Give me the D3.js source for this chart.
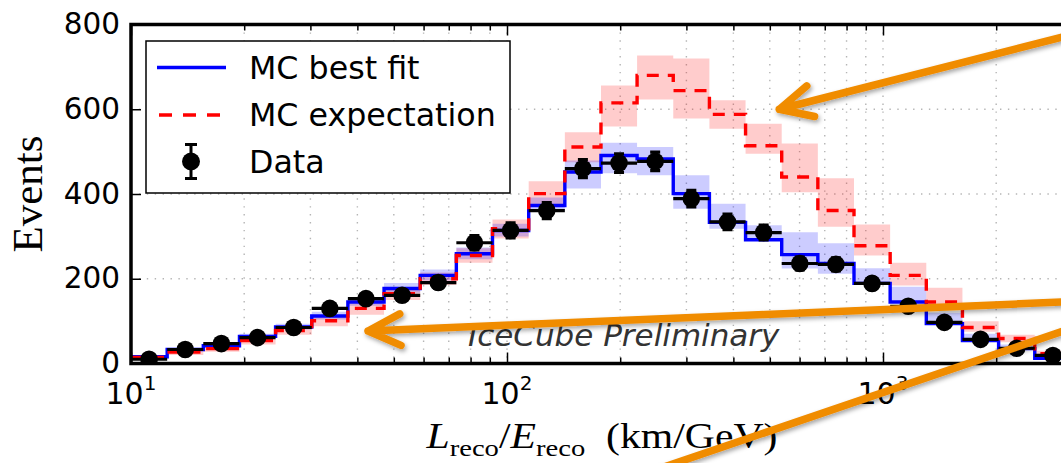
<!DOCTYPE html>
<html><head><meta charset="utf-8">
<script src="https://cdn.jsdelivr.net/npm/d3@7"></script>
<style>
html,body{margin:0;padding:0;background:#fff;}
svg{display:block;}
</style></head>
<body><svg id="chart" width="1061" height="463"></svg>
<script>
// Histogram bin edges in L_reco/E_reco (km/GeV): 26 log-uniform bins, 10 .. 10^3.5
const binEdges = [10, 12.48, 15.57, 19.43, 24.24, 30.25, 37.74, 47.10, 58.77, 73.33, 91.50,
  114.2, 142.5, 177.8, 221.8, 276.8, 345.4, 431.0, 537.8, 671.0, 837.3,
  1044.8, 1303.7, 1626.7, 2029.8, 2532.8, 3162.3];

// Observed events per bin
const dataCounts = [10, 33, 47, 61, 85, 130, 153, 161, 191, 285, 314, 361, 460,
  473, 477, 389, 334, 309, 236, 234, 189, 135, 97, 57, 36, 19];

// MC best fit with its uncertainty band
const bestFit = [16, 33, 42, 64, 86, 112, 145, 177, 208, 259, 314, 373, 452,
  491, 483, 401, 333, 292, 257, 236, 189, 145, 94, 54, 35, 12];
const bestFitLow = [13, 29, 38, 58, 80, 104, 136, 167, 196, 246, 300, 358, 413,
  449, 444, 365, 318, 290, 224, 212, 185, 146, 94, 54, 35, 12];
const bestFitHigh = [19, 37, 47, 70, 94, 122, 156, 190, 222, 274, 330, 392, 479,
  521, 511, 444, 377, 326, 310, 284, 225, 181, 120, 70, 45, 20];

// MC expectation (no oscillation fit) with its uncertainty band
const expectation = [14, 27, 35, 54, 78, 101, 130, 165, 200, 255, 318, 401, 511,
  615, 680, 644, 588, 514, 440, 361, 278, 208, 145, 85, 59, 23];
const expectationLow = [8, 20, 28, 45, 68, 88, 115, 150, 185, 238, 295, 372, 475,
  559, 623, 578, 554, 495, 404, 323, 255, 184, 135, 75, 50, 15];
const expectationHigh = [16, 30, 38, 58, 84, 110, 142, 178, 215, 272, 340, 430, 546,
  656, 727, 720, 621, 566, 519, 437, 328, 238, 179, 100, 68, 30];

// Axis ticks
const yTicks = [0, 200, 400, 600, 800];
const xMajorTicks = [10, 100, 1000];
const xMinorTicks = [20, 30, 40, 50, 60, 70, 80, 90, 200, 300, 400, 500, 600, 700, 800, 900, 2000, 3000];
const xTickExponents = ["1", "2", "3"];

// Legend entries
const legendLabels = ["MC best fit", "MC expectation", "Data"];

const svg = d3.select("#chart");
const W = 1061, H = 463;
const plot = {left: 131, right: 1071, top: 24.5, bottom: 363.5};

const x = d3.scaleLog().domain([10, Math.pow(10, 3.5)]).range([plot.left, plot.right]);
const y = d3.scaleLinear().domain([0, 800]).range([plot.bottom, plot.top]);

svg.append("rect").attr("width", W).attr("height", H).attr("fill", "#fff");

const defs = svg.append("defs");
defs.append("clipPath").attr("id", "plotClip")
  .append("rect").attr("x", plot.left).attr("y", plot.top)
  .attr("width", plot.right - plot.left).attr("height", plot.bottom - plot.top);
const shadow = defs.append("filter").attr("id", "arrowShadow")
  .attr("x", "-20%").attr("y", "-20%").attr("width", "140%").attr("height", "160%");
shadow.append("feDropShadow").attr("dx", 1.5).attr("dy", 2.5)
  .attr("stdDeviation", 2).attr("flood-color", "#000").attr("flood-opacity", 0.35);

// grid
const grid = svg.append("g").attr("stroke", "#b5b5b5").attr("stroke-width", 1.4)
  .attr("stroke-dasharray", "1.4,6.5");
grid.selectAll("line.v").data(xMajorTicks.concat(xMinorTicks)).join("line")
  .attr("x1", d => x(d)).attr("x2", d => x(d))
  .attr("y1", plot.top).attr("y2", plot.bottom);
grid.selectAll("line.h").data(yTicks.slice(1, -1)).join("line")
  .attr("x1", plot.left).attr("x2", plot.right)
  .attr("y1", d => y(d)).attr("y2", d => y(d));

const g = svg.append("g").attr("clip-path", "url(#plotClip)");

// step data: one point per bin start, repeated at the last edge
function steps(vals) {
  const pts = vals.map((v, i) => ({x: binEdges[i], v}));
  pts.push({x: binEdges[binEdges.length - 1], v: vals[vals.length - 1]});
  return pts;
}
function bandSteps(lo, hi) {
  const pts = lo.map((v, i) => ({x: binEdges[i], lo: v, hi: hi[i]}));
  pts.push({x: binEdges[binEdges.length - 1], lo: lo[lo.length - 1], hi: hi[hi.length - 1]});
  return pts;
}
const band = d3.area().curve(d3.curveStepAfter)
  .x(d => x(d.x)).y0(d => y(d.lo)).y1(d => y(d.hi));
const stepLine = d3.line().curve(d3.curveStepAfter)
  .x(d => x(d.x)).y(d => y(d.v));

g.append("path").attr("d", band(bandSteps(expectationLow, expectationHigh)))
  .attr("fill", "red").attr("fill-opacity", 0.2);
g.append("path").attr("d", band(bandSteps(bestFitLow, bestFitHigh)))
  .attr("fill", "blue").attr("fill-opacity", 0.2);

g.append("path").attr("d", stepLine(steps(bestFit)))
  .attr("fill", "none").attr("stroke", "blue").attr("stroke-width", 3.4);
g.append("path").attr("d", stepLine(steps(expectation)))
  .attr("fill", "none").attr("stroke", "red").attr("stroke-width", 3.4)
  .attr("stroke-dasharray", "12,9");

// data points with statistical error bars
const pts = dataCounts.map((v, i) => ({lo: binEdges[i], hi: binEdges[i + 1], v,
  c: Math.sqrt(binEdges[i] * binEdges[i + 1]), e: Math.sqrt(v)}));
const dg = g.append("g").attr("stroke", "#000").attr("stroke-width", 3.2);
dg.selectAll("line.xerr").data(pts).join("line")
  .attr("x1", d => x(d.lo)).attr("x2", d => x(d.hi))
  .attr("y1", d => y(d.v)).attr("y2", d => y(d.v));
dg.selectAll("line.yerr").data(pts).join("line")
  .attr("x1", d => x(d.c)).attr("x2", d => x(d.c))
  .attr("y1", d => y(d.v - d.e)).attr("y2", d => y(d.v + d.e));
dg.selectAll("line.capt").data(pts).join("line")
  .attr("x1", d => x(d.c) - 5).attr("x2", d => x(d.c) + 5)
  .attr("y1", d => y(d.v + d.e)).attr("y2", d => y(d.v + d.e));
dg.selectAll("line.capb").data(pts).join("line")
  .attr("x1", d => x(d.c) - 5).attr("x2", d => x(d.c) + 5)
  .attr("y1", d => y(d.v - d.e)).attr("y2", d => y(d.v - d.e));
g.append("g").selectAll("circle").data(pts).join("circle")
  .attr("cx", d => x(d.c)).attr("cy", d => y(d.v)).attr("r", 8.8).attr("fill", "#000");

// watermark
svg.append("text").attr("x", 468).attr("y", 346)
  .attr("font-family", "DejaVu Sans").attr("font-style", "italic")
  .attr("font-size", 31).attr("fill", "#333")
  .text("IceCube Preliminary");

// axes: ticks point inward
const tickStyle = sel => {
  sel.select(".domain").remove();
  sel.selectAll(".tick line").attr("stroke", "#000").attr("stroke-width", 1.5);
  sel.selectAll(".tick text").remove();
};
svg.append("g").attr("transform", `translate(0,${plot.bottom})`)
  .call(d3.axisBottom(x).tickValues(xMajorTicks).tickSize(-11)).call(tickStyle);
svg.append("g").attr("transform", `translate(0,${plot.bottom})`)
  .call(d3.axisBottom(x).tickValues(xMinorTicks).tickSize(-6)).call(tickStyle);
svg.append("g").attr("transform", `translate(0,${plot.top})`)
  .call(d3.axisTop(x).tickValues(xMajorTicks).tickSize(-11)).call(tickStyle);
svg.append("g").attr("transform", `translate(0,${plot.top})`)
  .call(d3.axisTop(x).tickValues(xMinorTicks).tickSize(-6)).call(tickStyle);
svg.append("g").attr("transform", `translate(${plot.left},0)`)
  .call(d3.axisLeft(y).tickValues(yTicks).tickSize(-10)).call(tickStyle);

// spines
svg.append("rect").attr("x", plot.left).attr("y", plot.top)
  .attr("width", plot.right - plot.left).attr("height", plot.bottom - plot.top)
  .attr("fill", "none").attr("stroke", "#000").attr("stroke-width", 3.5);

// tick labels
svg.append("g").selectAll("text").data(yTicks).join("text")
  .attr("x", plot.left - 11).attr("y", d => y(d) + 9.5)
  .attr("text-anchor", "end").attr("font-family", "DejaVu Sans").attr("font-size", 29.5)
  .attr("fill", "#000").text(d => d);
const xl = svg.append("g").selectAll("text").data(xMajorTicks).join("text")
  .attr("x", d => x(d)).attr("y", 404)
  .attr("text-anchor", "middle").attr("font-family", "DejaVu Sans").attr("font-size", 30)
  .attr("fill", "#000");
xl.append("tspan").text("10");
xl.append("tspan").attr("dy", -14).attr("font-size", 20).text((d, i) => xTickExponents[i]);

// axis titles
svg.append("text").attr("transform", "translate(42,194) rotate(-90)")
  .attr("text-anchor", "middle").attr("font-family", "Liberation Serif").attr("font-size", 43)
  .attr("fill", "#000").text("Events");
const xt = svg.append("text").attr("x", 602).attr("y", 448).attr("text-anchor", "middle")
  .attr("font-family", "Liberation Serif").attr("font-size", 35).attr("fill", "#000")
  .attr("textLength", 351).attr("lengthAdjust", "spacingAndGlyphs");
xt.append("tspan").attr("font-style", "italic").text("L");
xt.append("tspan").attr("dy", 8).attr("font-size", 24).text("reco");
xt.append("tspan").attr("dy", -8).text("/");
xt.append("tspan").attr("font-style", "italic").text("E");
xt.append("tspan").attr("dy", 8).attr("font-size", 24).text("reco");
xt.append("tspan").attr("dy", -8).text("\u2002(km/GeV)");

// legend
const lg = svg.append("g");
lg.append("rect").attr("x", 146).attr("y", 41).attr("width", 364).attr("height", 152)
  .attr("fill", "#fff").attr("stroke", "#000").attr("stroke-width", 1.5);
const rowY = [67.5, 115, 161.5];
lg.append("line").attr("x1", 157).attr("x2", 226).attr("y1", rowY[0]).attr("y2", rowY[0])
  .attr("stroke", "blue").attr("stroke-width", 3.4);
lg.append("line").attr("x1", 159).attr("x2", 226).attr("y1", rowY[1]).attr("y2", rowY[1])
  .attr("stroke", "red").attr("stroke-width", 3.4).attr("stroke-dasharray", "13,11");
lg.append("line").attr("x1", 191).attr("x2", 191).attr("y1", rowY[2] - 17).attr("y2", rowY[2] + 17)
  .attr("stroke", "#000").attr("stroke-width", 3);
[-17, 17].forEach(o => lg.append("line").attr("x1", 185).attr("x2", 197)
  .attr("y1", rowY[2] + o).attr("y2", rowY[2] + o).attr("stroke", "#000").attr("stroke-width", 3));
lg.append("circle").attr("cx", 191).attr("cy", rowY[2]).attr("r", 9).attr("fill", "#000");
lg.selectAll("text").data(legendLabels).join("text")
  .attr("x", 249).attr("y", (d, i) => rowY[i] + 11)
  .attr("font-family", "DejaVu Sans").attr("font-size", 31.7).attr("fill", "#000").text(d => d);

// orange call-out arrows (tip and tail in data coordinates)
const arrows = [
  {tip: [530, 600], tail: [3243, 778], head: true},
  {tip: [42.7, 76.7], tail: [3243, 146.3], head: true},
  {tip: [247.5, -251.5], tail: [3243, 86.1], head: false}
];
const ag = svg.append("g").attr("stroke", "#F08C00").attr("stroke-width", 7.5)
  .attr("stroke-linecap", "round").attr("fill", "none").attr("filter", "url(#arrowShadow)");
arrows.forEach(a => {
  const tx = x(a.tip[0]), ty = y(a.tip[1]), sx = x(a.tail[0]), sy = y(a.tail[1]);
  let d = `M${sx},${sy}L${tx},${ty}`;
  if (a.head) {
    const ang = Math.atan2(sy - ty, sx - tx), len = 36, spread = 26 * Math.PI / 180;
    const p1 = [tx + len * Math.cos(ang - spread), ty + len * Math.sin(ang - spread)];
    const p2 = [tx + len * Math.cos(ang + spread), ty + len * Math.sin(ang + spread)];
    d += `M${p1[0]},${p1[1]}L${tx},${ty}L${p2[0]},${p2[1]}`;
  }
  ag.append("path").attr("d", d).attr("stroke-linejoin", "round");
});
</script></body></html>
